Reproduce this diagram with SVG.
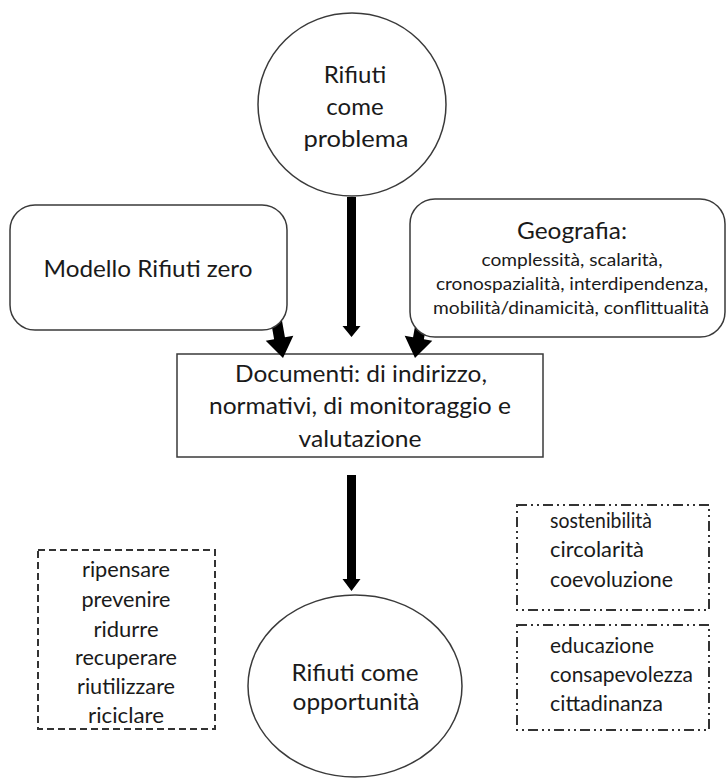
<svg xmlns="http://www.w3.org/2000/svg" width="727" height="778" viewBox="0 0 727 778">
<style>
  .t { font-family: Lato, "Open Sans", "Liberation Sans", sans-serif; fill: #1a1a1a; }
  .c { text-anchor: middle; }
  .shape { fill: #ffffff; stroke: #3a3a3a; stroke-width: 1.5; }
  .dash { fill: none; stroke: #333333; stroke-width: 2; stroke-dasharray: 7 4; }
  .dashdot { fill: none; stroke: #333333; stroke-width: 2; stroke-dasharray: 10 4 2 4 2 4; }
  .arrow { fill: #000000; stroke: none; }
</style>
<defs>
  <polygon id="fat" points="-5.5,-45 5.5,-45 5.5,-20 14,-20 0,0 -14,-20 -5.5,-20"/>
</defs>
<rect width="727" height="778" fill="#ffffff"/>

<g id="node-documenti">
  <rect class="shape" x="177" y="354" width="366" height="103"/>
  <text class="t c" x="361" y="382" font-size="23" textLength="252" lengthAdjust="spacingAndGlyphs">Documenti: di indirizzo,</text>
  <text class="t c" x="360" y="414" font-size="23" textLength="302" lengthAdjust="spacingAndGlyphs">normativi, di monitoraggio e</text>
  <text class="t c" x="360" y="447" font-size="23" textLength="123" lengthAdjust="spacingAndGlyphs">valutazione</text>
</g>

<g id="connectors">
  <polygon class="arrow" points="347,197 356,197 356,326 360.5,326 351.5,337 342.5,326 347,326"/>
  <polygon class="arrow" points="347,475 356,475 356,579 360.5,579 351.5,591 342.5,579 347,579"/>
  <use href="#fat" class="arrow" transform="translate(283,358) rotate(-10)"/>
  <use href="#fat" class="arrow" transform="translate(415,358) rotate(10)"/>
</g>

<g id="node-problema">
  <ellipse class="shape" cx="352" cy="104.5" rx="94" ry="91.5"/>
  <text class="t c" x="355" y="83" font-size="24">Rifiuti</text>
  <text class="t c" x="355" y="115" font-size="24">come</text>
  <text class="t c" x="356" y="147" font-size="24" textLength="105" lengthAdjust="spacingAndGlyphs">problema</text>
</g>

<g id="node-modello">
  <rect class="shape" x="10" y="205" width="277" height="125" rx="25" ry="25"/>
  <text class="t c" x="148" y="277" font-size="24" textLength="209" lengthAdjust="spacingAndGlyphs">Modello Rifiuti zero</text>
</g>

<g id="node-geografia">
  <rect class="shape" x="410" y="199" width="315" height="138" rx="25" ry="25"/>
  <text class="t c" x="572" y="239" font-size="23" textLength="110" lengthAdjust="spacingAndGlyphs">Geografia:</text>
  <text class="t c" x="572" y="266" font-size="17" textLength="181" lengthAdjust="spacingAndGlyphs">complessità, scalarità,</text>
  <text class="t c" x="572" y="290" font-size="17" textLength="272" lengthAdjust="spacingAndGlyphs">cronospazialità, interdipendenza,</text>
  <text class="t c" x="571" y="314" font-size="17" textLength="276" lengthAdjust="spacingAndGlyphs">mobilità/dinamicità, conflittualità</text>
</g>

<g id="node-opportunita">
  <ellipse class="shape" cx="355" cy="686" rx="107" ry="91"/>
  <text class="t c" x="355" y="681" font-size="24" textLength="127" lengthAdjust="spacingAndGlyphs">Rifiuti come</text>
  <text class="t c" x="356" y="710" font-size="24" textLength="127" lengthAdjust="spacingAndGlyphs">opportunità</text>
</g>

<g id="node-azioni">
  <rect class="dash" x="38" y="550" width="177" height="179"/>
  <text class="t c" x="126" y="577" font-size="21" textLength="88" lengthAdjust="spacingAndGlyphs">ripensare</text>
  <text class="t c" x="126" y="607" font-size="21" textLength="89" lengthAdjust="spacingAndGlyphs">prevenire</text>
  <text class="t c" x="126" y="637" font-size="21" textLength="65" lengthAdjust="spacingAndGlyphs">ridurre</text>
  <text class="t c" x="126" y="665" font-size="21" textLength="102" lengthAdjust="spacingAndGlyphs">recuperare</text>
  <text class="t c" x="126" y="694" font-size="21" textLength="98" lengthAdjust="spacingAndGlyphs">riutilizzare</text>
  <text class="t c" x="126" y="723" font-size="21" textLength="76" lengthAdjust="spacingAndGlyphs">riciclare</text>
</g>

<g id="node-principi">
  <rect class="dashdot" x="517" y="505" width="192" height="105"/>
  <text class="t" x="550" y="528" font-size="21" textLength="102" lengthAdjust="spacingAndGlyphs">sostenibilità</text>
  <text class="t" x="550" y="557" font-size="21" textLength="94" lengthAdjust="spacingAndGlyphs">circolarità</text>
  <text class="t" x="550" y="587" font-size="21" textLength="123" lengthAdjust="spacingAndGlyphs">coevoluzione</text>
</g>

<g id="node-cittadinanza">
  <rect class="dashdot" x="517" y="625" width="192" height="105"/>
  <text class="t" x="550" y="653" font-size="21" textLength="104" lengthAdjust="spacingAndGlyphs">educazione</text>
  <text class="t" x="550" y="682" font-size="21" textLength="143" lengthAdjust="spacingAndGlyphs">consapevolezza</text>
  <text class="t" x="550" y="711" font-size="21" textLength="113" lengthAdjust="spacingAndGlyphs">cittadinanza</text>
</g>
</svg>
